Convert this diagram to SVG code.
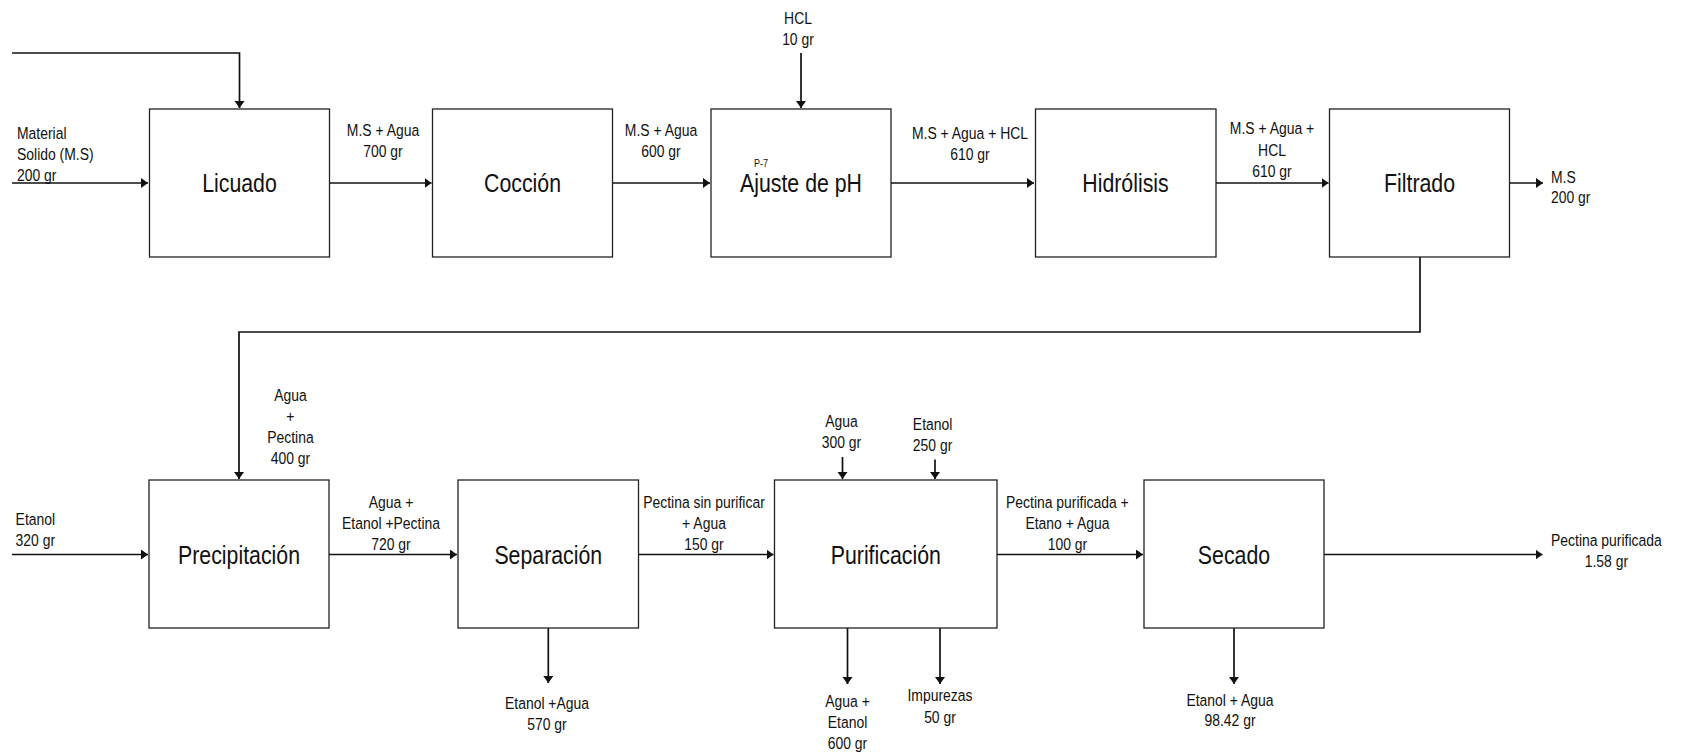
<svg xmlns="http://www.w3.org/2000/svg" width="1689" height="755" viewBox="0 0 1689 755">
<style>
.box{fill:#fff;stroke:#222;stroke-width:1.3}
.c{fill:none;stroke:#111;stroke-width:1.7}
.t{font-family:"Liberation Sans",Arial,sans-serif;font-size:17px;fill:#111}
.m{text-anchor:middle}
.b{font-family:"Liberation Sans",Arial,sans-serif;font-size:26px;fill:#111;text-anchor:middle}
.s{font-family:"Liberation Sans",Arial,sans-serif;font-size:11px;fill:#111}
</style>
<defs>
<marker id="ah" markerUnits="userSpaceOnUse" markerWidth="8" markerHeight="11" refX="7" refY="5" orient="auto">
<path d="M0,0 L7,5 L0,10 Z" fill="#111"/>
</marker>
</defs>
<rect width="1689" height="755" fill="#fff"/>

<g id="connectors">
<path class="c" d="M12,53 H239.5 V108" marker-end="url(#ah)"/>
<path class="c" d="M12,183 H148" marker-end="url(#ah)"/>
<path class="c" d="M329.5,183 H431.5" marker-end="url(#ah)"/>
<path class="c" d="M612.5,183 H710" marker-end="url(#ah)"/>
<path class="c" d="M801,53 V108" marker-end="url(#ah)"/>
<path class="c" d="M891,183 H1034" marker-end="url(#ah)"/>
<path class="c" d="M1216,183 H1328.5" marker-end="url(#ah)"/>
<path class="c" d="M1509.5,183 H1543" marker-end="url(#ah)"/>
<path class="c" d="M1420,257 V332 H239 V479" marker-end="url(#ah)"/>
<path class="c" d="M12,554.5 H148" marker-end="url(#ah)"/>
<path class="c" d="M329,554.5 H457" marker-end="url(#ah)"/>
<path class="c" d="M548.3,628 V683" marker-end="url(#ah)"/>
<path class="c" d="M638.5,554.5 H773.5" marker-end="url(#ah)"/>
<path class="c" d="M842.5,457 V479" marker-end="url(#ah)"/>
<path class="c" d="M935,459.5 V479" marker-end="url(#ah)"/>
<path class="c" d="M847.5,628 V684" marker-end="url(#ah)"/>
<path class="c" d="M940,628 V684" marker-end="url(#ah)"/>
<path class="c" d="M997,554.5 H1143" marker-end="url(#ah)"/>
<path class="c" d="M1234,628 V684" marker-end="url(#ah)"/>
<path class="c" d="M1324,554.5 H1542.5" marker-end="url(#ah)"/>
</g>

<g id="licuado"><rect class="box" x="149.5" y="109" width="180" height="148"/><text class="b" transform="translate(239.5,192) scale(.82,1)">Licuado</text></g>
<g id="coccion"><rect class="box" x="432.5" y="109" width="180" height="148"/><text class="b" transform="translate(522.5,192) scale(.82,1)">Cocción</text></g>
<g id="ajuste"><rect class="box" x="711" y="109" width="180" height="148"/><text class="s" transform="translate(754,167) scale(.82,1)">P-7</text><text class="b" transform="translate(801,192) scale(.82,1)">Ajuste de pH</text></g>
<g id="hidrolisis"><rect class="box" x="1035.5" y="109" width="180.5" height="148"/><text class="b" transform="translate(1125.5,192) scale(.82,1)">Hidrólisis</text></g>
<g id="filtrado"><rect class="box" x="1329.5" y="109" width="180" height="148"/><text class="b" transform="translate(1419.5,192) scale(.82,1)">Filtrado</text></g>
<g id="precipitacion"><rect class="box" x="149" y="480" width="180" height="148"/><text class="b" transform="translate(239,563.5) scale(.82,1)">Precipitación</text></g>
<g id="separacion"><rect class="box" x="458" y="480" width="180.5" height="148"/><text class="b" transform="translate(548.3,563.5) scale(.82,1)">Separación</text></g>
<g id="purificacion"><rect class="box" x="774.5" y="480" width="222.5" height="148"/><text class="b" transform="translate(885.8,563.5) scale(.82,1)">Purificación</text></g>
<g id="secado"><rect class="box" x="1144" y="480" width="180" height="148"/><text class="b" transform="translate(1234,563.5) scale(.82,1)">Secado</text></g>

<g id="labels">
<text class="t" transform="translate(17,139) scale(.82,1)">Material</text>
<text class="t" transform="translate(17,160) scale(.82,1)">Solido (M.S)</text>
<text class="t" transform="translate(17,181) scale(.82,1)">200 gr</text>
<text class="t m" transform="translate(383,136) scale(.82,1)">M.S + Agua</text>
<text class="t m" transform="translate(383,157) scale(.82,1)">700 gr</text>
<text class="t m" transform="translate(661,136) scale(.82,1)">M.S + Agua</text>
<text class="t m" transform="translate(661,157) scale(.82,1)">600 gr</text>
<text class="t m" transform="translate(798,23.5) scale(.82,1)">HCL</text>
<text class="t m" transform="translate(798,44.5) scale(.82,1)">10 gr</text>
<text class="t m" transform="translate(970,139) scale(.82,1)">M.S + Agua + HCL</text>
<text class="t m" transform="translate(970,160) scale(.82,1)">610 gr</text>
<text class="t m" transform="translate(1272,134) scale(.82,1)">M.S + Agua +</text>
<text class="t m" transform="translate(1272,156) scale(.82,1)">HCL</text>
<text class="t m" transform="translate(1272,177) scale(.82,1)">610 gr</text>
<text class="t" transform="translate(1551,183) scale(.82,1)">M.S</text>
<text class="t" transform="translate(1551,203) scale(.82,1)">200 gr</text>
<text class="t" transform="translate(15.6,525) scale(.82,1)">Etanol</text>
<text class="t" transform="translate(15.6,545.5) scale(.82,1)">320 gr</text>
<text class="t m" transform="translate(290.4,400.5) scale(.82,1)">Agua</text>
<text class="t m" transform="translate(290.4,421.5) scale(.82,1)">+</text>
<text class="t m" transform="translate(290.4,442.5) scale(.82,1)">Pectina</text>
<text class="t m" transform="translate(290.4,463.5) scale(.82,1)">400 gr</text>
<text class="t m" transform="translate(391,508) scale(.82,1)">Agua +</text>
<text class="t m" transform="translate(391,528.5) scale(.82,1)">Etanol +Pectina</text>
<text class="t m" transform="translate(391,549.5) scale(.82,1)">720 gr</text>
<text class="t m" transform="translate(547,709) scale(.82,1)">Etanol +Agua</text>
<text class="t m" transform="translate(547,730) scale(.82,1)">570 gr</text>
<text class="t m" transform="translate(704,508) scale(.82,1)">Pectina sin purificar</text>
<text class="t m" transform="translate(704,529) scale(.82,1)">+ Agua</text>
<text class="t m" transform="translate(704,549.5) scale(.82,1)">150 gr</text>
<text class="t m" transform="translate(841.5,427) scale(.82,1)">Agua</text>
<text class="t m" transform="translate(841.5,448) scale(.82,1)">300 gr</text>
<text class="t m" transform="translate(932.6,429.5) scale(.82,1)">Etanol</text>
<text class="t m" transform="translate(932.6,450.5) scale(.82,1)">250 gr</text>
<text class="t m" transform="translate(1067.4,508) scale(.82,1)">Pectina purificada +</text>
<text class="t m" transform="translate(1067.4,529) scale(.82,1)">Etano + Agua</text>
<text class="t m" transform="translate(1067.4,549.5) scale(.82,1)">100 gr</text>
<text class="t m" transform="translate(847.5,707) scale(.82,1)">Agua +</text>
<text class="t m" transform="translate(847.5,728) scale(.82,1)">Etanol</text>
<text class="t m" transform="translate(847.5,749) scale(.82,1)">600 gr</text>
<text class="t m" transform="translate(940,701) scale(.82,1)">Impurezas</text>
<text class="t m" transform="translate(940,723) scale(.82,1)">50 gr</text>
<text class="t m" transform="translate(1230,705.5) scale(.82,1)">Etanol + Agua</text>
<text class="t m" transform="translate(1230,726) scale(.82,1)">98.42 gr</text>
<text class="t m" transform="translate(1606.4,546) scale(.82,1)">Pectina purificada</text>
<text class="t m" transform="translate(1606.4,567) scale(.82,1)">1.58 gr</text>
</g>
</svg>
